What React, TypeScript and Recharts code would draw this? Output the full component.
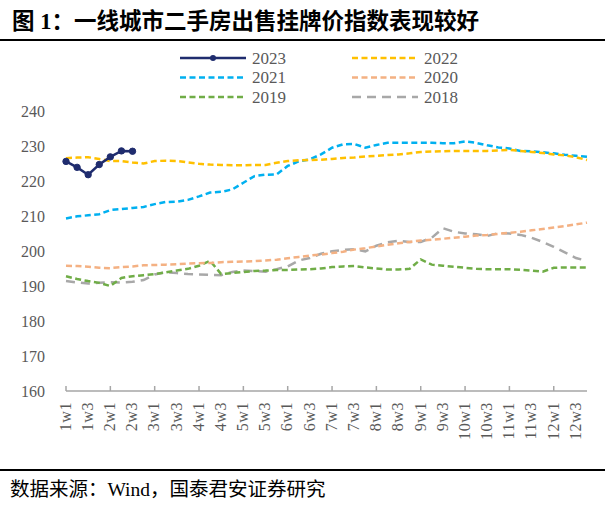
import React from 'react';
import { LineChart, Line, XAxis, YAxis } from 'recharts';

// week categories, labels shown every other week (w1, w3)
const weeks = [
  '1w1', '1w2', '1w3', '1w4', '2w1', '2w2', '2w3', '2w4', '3w1', '3w2', '3w3', '3w4',
  '4w1', '4w2', '4w3', '4w4', '5w1', '5w2', '5w3', '5w4', '6w1', '6w2', '6w3', '6w4',
  '7w1', '7w2', '7w3', '7w4', '8w1', '8w2', '8w3', '8w4', '9w1', '9w2', '9w3', '9w4',
  '10w1', '10w2', '10w3', '10w4', '11w1', '11w2', '11w3', '11w4', '12w1', '12w2', '12w3', '12w4',
];

const s2023 = [225.6, 223.9, 221.8, 224.7, 226.9, 228.6, 228.5];
const s2022 = [
  226.5, 226.7, 226.8, 226.3, 225.7, 225.7, 225.3, 225.0, 225.7, 225.8, 225.7, 225.3,
  224.9, 224.7, 224.6, 224.5, 224.5, 224.6, 224.6, 225.2, 225.7, 225.9, 226.0, 226.1,
  226.3, 226.6, 226.7, 227.0, 227.2, 227.4, 227.6, 227.9, 228.3, 228.4, 228.5, 228.6,
  228.6, 228.6, 228.6, 228.7, 228.9, 228.6, 228.3, 228.0, 227.6, 227.3, 226.8, 226.0,
];
const s2021 = [
  209.3, 209.9, 210.2, 210.5, 211.7, 212.0, 212.3, 212.6, 213.4, 214.0, 214.1, 214.6,
  215.6, 216.7, 216.9, 217.6, 219.5, 221.4, 221.8, 221.9, 224.3, 225.6, 226.2, 227.6,
  229.5, 230.5, 230.6, 229.5, 230.3, 230.9, 230.9, 230.9, 230.9, 230.9, 230.8, 230.8,
  231.3, 230.9, 230.2, 229.6, 229.3, 228.6, 228.5, 228.2, 227.9, 227.5, 227.2, 226.9,
];
const s2020 = [
  195.8, 195.7, 195.5, 195.2, 195.1, 195.4, 195.6, 195.9, 196.0, 196.1, 196.2, 196.4,
  196.5, 196.6, 196.8, 196.9, 197.0, 197.1, 197.3, 197.5, 197.9, 198.3, 198.7, 199.0,
  199.4, 199.8, 200.4, 200.8, 201.3, 201.8, 202.2, 202.6, 203.0, 203.2, 203.5, 203.8,
  204.1, 204.4, 204.6, 204.9, 205.2, 205.5, 205.9, 206.3, 206.7, 207.1, 207.6, 208.1,
];
const s2019 = [
  192.8, 192.0, 191.4, 190.9, 190.0, 192.3, 192.8, 193.1, 193.4, 193.9, 194.4, 194.9,
  195.8, 197.2, 193.4, 193.7, 194.0, 194.3, 194.4, 194.6, 194.6, 194.7, 194.8, 195.0,
  195.4, 195.6, 195.7, 195.3, 195.0, 194.7, 194.7, 194.9, 197.6, 196.1, 195.8, 195.5,
  195.2, 194.9, 194.8, 194.8, 194.8, 194.6, 194.4, 194.1, 195.2, 195.3, 195.3, 195.3,
];
const s2018 = [
  191.4, 191.0, 190.7, 190.9, 191.1, 191.0, 191.2, 191.7, 193.3, 193.9, 193.7, 193.4,
  193.3, 193.2, 193.1, 194.0, 194.4, 194.3, 194.1, 194.8, 195.6, 197.3, 198.0, 199.2,
  199.9, 200.3, 200.5, 199.9, 201.5, 202.5, 202.9, 202.6, 202.6, 203.8, 206.5, 205.5,
  205.0, 204.8, 204.3, 205.1, 205.0, 204.6, 203.8, 202.6, 201.2, 199.6, 198.0, 197.2,
];

const yTicks = [160, 170, 180, 190, 200, 210, 220, 230, 240];

const series = [
  { key: 'y2018', name: '2018', color: '#A8A8A8', dash: '9 6' },
  { key: 'y2019', name: '2019', color: '#70AD47', dash: '6 3.5' },
  { key: 'y2020', name: '2020', color: '#F4B183', dash: '6 3.5' },
  { key: 'y2021', name: '2021', color: '#00B0F0', dash: '6 3.5' },
  { key: 'y2022', name: '2022', color: '#FFC000', dash: '6 3.5' },
];
const navy = '#1F2C6E';

const data = weeks.map((week, i) => ({
  week,
  y2023: i < s2023.length ? s2023[i] : null,
  y2022: s2022[i],
  y2021: s2021[i],
  y2020: s2020[i],
  y2019: s2019[i],
  y2018: s2018[i],
}));

const serif = '"Liberation Serif", "Times New Roman", "Noto Sans CJK SC", serif';

const WeekTick = (props: any) => {
  const { x, y, payload } = props;
  const label: string = payload.value;
  return (
    <g>
      {label.endsWith('w1') && <line x1={x} x2={x} y1={y - 5} y2={y} stroke="#A6A6A6" strokeWidth={1.5} />}
      <text
        x={x}
        y={y + 11}
        transform={`rotate(-90 ${x} ${y + 11})`}
        textAnchor="end"
        dy="0.3em"
        fill="#595959"
        fontSize={16}
        fontFamily={serif}
        letterSpacing={0.6}
      >
        {label}
      </text>
    </g>
  );
};

const legendRows = [
  [{ name: '2023', color: navy, dash: undefined, dot: true }, { name: '2022', color: '#FFC000', dash: '6 3.5', dot: false }],
  [{ name: '2021', color: '#00B0F0', dash: '6 3.5', dot: false }, { name: '2020', color: '#F4B183', dash: '6 3.5', dot: false }],
  [{ name: '2019', color: '#70AD47', dash: '6 3.5', dot: false }, { name: '2018', color: '#A8A8A8', dash: '9 6', dot: false }],
];
const rowY = [58, 77.5, 97];
const colX = [180, 352];

const LegendBox = () => (
  <svg width={605} height={110} style={{ position: 'absolute', left: 0, top: 0 }}>
    {legendRows.map((row, r) =>
      row.map((item, c) => (
        <g key={item.name}>
          <line
            x1={colX[c]}
            x2={colX[c] + 66}
            y1={rowY[r]}
            y2={rowY[r]}
            stroke={item.color}
            strokeWidth={2.5}
            strokeDasharray={item.dash}
          />
          {item.dot && <circle cx={colX[c] + 33} cy={rowY[r]} r={3} fill={item.color} />}
          <text
            x={colX[c] + 72}
            y={rowY[r]}
            dy="0.35em"
            fill="#595959"
            fontSize={17}
            fontFamily={serif}
          >
            {item.name}
          </text>
        </g>
      ))
    )}
  </svg>
);

export default function App() {
  return (
    <div style={{ position: 'absolute', left: 0, top: 0, width: 605, height: 508, background: '#fff', overflow: 'hidden' }}>
      <div
        style={{
          position: 'absolute',
          left: 12,
          top: 10,
          fontSize: 22.5,
          lineHeight: '23px',
          fontWeight: 'bold',
          fontFamily: serif,
          color: '#000',
          whiteSpace: 'nowrap',
        }}
      >
        图 1：一线城市二手房出售挂牌价指数表现较好
      </div>
      <div style={{ position: 'absolute', left: 0, top: 38.5, width: 605, height: 2, background: '#000' }} />

      <div style={{ position: 'absolute', left: 0, top: 0 }}>
        <LineChart width={605} height={508} data={data} margin={{ top: 111, right: 18, bottom: 0, left: 0 }}>
          <XAxis
            dataKey="week"
            interval={1}
            height={117}
            tickSize={0}
            tickMargin={0}
            tickLine={false}
            axisLine={{ stroke: '#A6A6A6', strokeWidth: 1.5 }}
            tick={<WeekTick />}
          />
          <YAxis
            domain={[160, 240]}
            ticks={yTicks}
            width={66}
            axisLine={false}
            tickLine={false}
            tickSize={0}
            tickMargin={21}
            tick={{ fill: '#595959', fontSize: 16, fontFamily: serif }}
          />
          {series.map(s => (
            <Line
              key={s.key}
              dataKey={s.key}
              name={s.name}
              type="linear"
              stroke={s.color}
              strokeWidth={2.5}
              strokeDasharray={s.dash}
              dot={false}
              isAnimationActive={false}
            />
          ))}
          <Line
            dataKey="y2023"
            name="2023"
            type="linear"
            stroke={navy}
            strokeWidth={2.5}
            dot={{ r: 3.2, fill: navy, stroke: navy, strokeWidth: 1 }}
            isAnimationActive={false}
          />
        </LineChart>
      </div>

      <LegendBox />

      <div style={{ position: 'absolute', left: 0, top: 468.5, width: 605, height: 2, background: '#000' }} />
      <div
        style={{
          position: 'absolute',
          left: 10,
          top: 480,
          fontSize: 19.5,
          lineHeight: '20px',
          fontFamily: serif,
          color: '#000',
          whiteSpace: 'nowrap',
        }}
      >
        数据来源：Wind，国泰君安证券研究
      </div>
    </div>
  );
}
